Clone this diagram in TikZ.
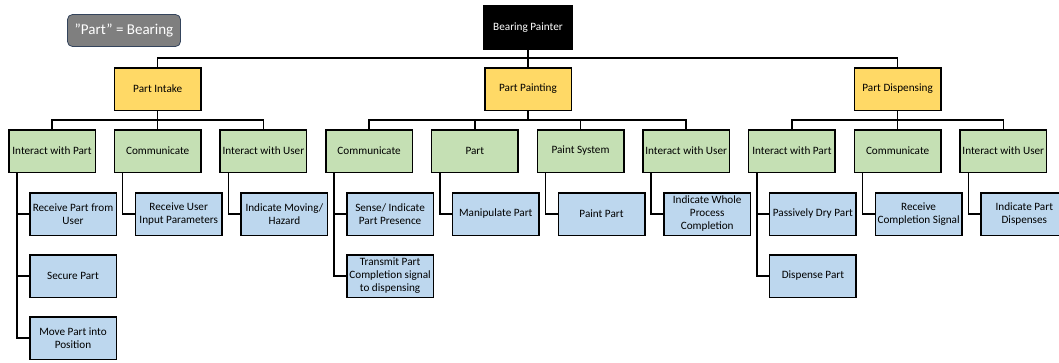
\documentclass[tikz,border=0pt]{standalone}
\usepackage{fontspec}
\setmainfont{Carlito}
\usepackage{tikz}
\usetikzlibrary{
  positioning,
  calc
}
\definecolor{gold}{RGB}{255,217,102}
\definecolor{sage}{RGB}{197,224,180}
\definecolor{skyblue}{RGB}{189,215,238}
\definecolor{slate}{RGB}{127,127,127}
\definecolor{slateedge}{RGB}{52,68,92}

\begin{document}
\begin{tikzpicture}[x=1pt, y=-1pt, node distance=17.7pt,
  box/.style={draw=black, line width=1.5pt, minimum width=86.5pt, minimum height=42.5pt,
    inner xsep=0.5pt, align=center, font=\fontsize{11.2}{13}\selectfont},
  top/.style={box, fill=black, text=white, minimum width=88.5pt, minimum height=43.5pt},
  stage/.style={box, fill=gold},
  func/.style={box, fill=sage},
  leaf/.style={box, fill=skyblue},
  link/.style={draw=black, line width=1.5pt}]
\useasboundingbox (0,0) rectangle (1059,362);

% key
\node[draw=slateedge, fill=slate, text=white, rounded corners=5pt, line width=0.8pt,
  minimum width=113pt, minimum height=32pt, inner sep=1pt,
  font=\fontsize{15}{17}\selectfont] (key) at (124,30.5) {\symbol{34}Part\symbol{34} = Bearing};

% root and stages
\node[top] (root) at (528,27.5) {Bearing Painter};
\node[stage, below=17pt of root] (paint) {Part Painting};

% function row
\node[func] (g1) at (52,151) {Interact with Part};
\node[func, right=of g1] (g2) {Communicate};
\node[func, right=of g2] (g3) {Interact with User};
\node[func, right=of g3] (g4) {Communicate};
\node[func, right=of g4] (g5) {Part};
\node[func, right=of g5] (g6) {Paint System};
\node[func, right=of g6] (g7) {Interact with User};
\node[func, right=of g7] (g8) {Interact with Part};
\node[func, right=of g8] (g9) {Communicate};
\node[func, right=of g9] (g10) {Interact with User};

\node[stage] (intake) at (g2 |- paint) {Part Intake};
\node[stage] (dispense) at (g9 |- paint) {Part Dispensing};

% leaves
\node[leaf, below right=19pt and 21pt of g1.south west] (b1) {Receive Part from\\User};
\node[leaf, below=18pt of b1] (b2) {Secure Part};
\node[leaf, below=18pt of b2] (b3) {Move Part into\\Position};
\node[leaf, below right=19pt and 21pt of g2.south west] (b4) {Receive User\\Input Parameters};
\node[leaf, below right=19pt and 21pt of g3.south west] (b5) {Indicate Moving/\\Hazard};
\node[leaf, below right=19pt and 21pt of g4.south west] (b6) {Sense/ Indicate\\Part Presence};
\node[leaf, below=18pt of b6] (b7) {Transmit Part\\Completion signal\\to dispensing};
\node[leaf, below right=19pt and 21pt of g5.south west] (b8) {Manipulate Part};
\node[leaf, below right=19pt and 21pt of g6.south west] (b9) {Paint Part};
\node[leaf, below right=19pt and 21pt of g7.south west] (b10) {Indicate Whole\\Process\\Completion};
\node[leaf, below right=19pt and 21pt of g8.south west] (b11) {Passively Dry Part};
\node[leaf, below=18pt of b11] (b12) {Dispense Part};
\node[leaf, below right=19pt and 21pt of g9.south west] (b13) {Receive\\Completion Signal};
\node[leaf, below right=19pt and 21pt of g10.south west] (b14) {Indicate Part\\Dispenses};

% root to stages
\draw[link] (root.south) -- (paint.north);
\draw[link] (root.south) -- ++(0,-8pt) -| (intake.north);
\draw[link] (root.south) -- ++(0,-8pt) -| (dispense.north);

% stages to functions
\foreach \s/\g in {intake/g1,intake/g2,intake/g3,paint/g4,paint/g5,paint/g6,paint/g7,dispense/g8,dispense/g9,dispense/g10}
  \draw[link] (\s.south) -- ++(0,-9pt) -| (\g.north);

% functions to leaves
\foreach \g/\b in {g1/b1,g1/b2,g1/b3,g2/b4,g3/b5,g4/b6,g4/b7,g5/b8,g6/b9,g7/b10,g8/b11,g8/b12,g9/b13,g10/b14}
  \draw[link] ([xshift=9pt]\g.south west) |- (\b.west);
\end{tikzpicture}
\end{document}
